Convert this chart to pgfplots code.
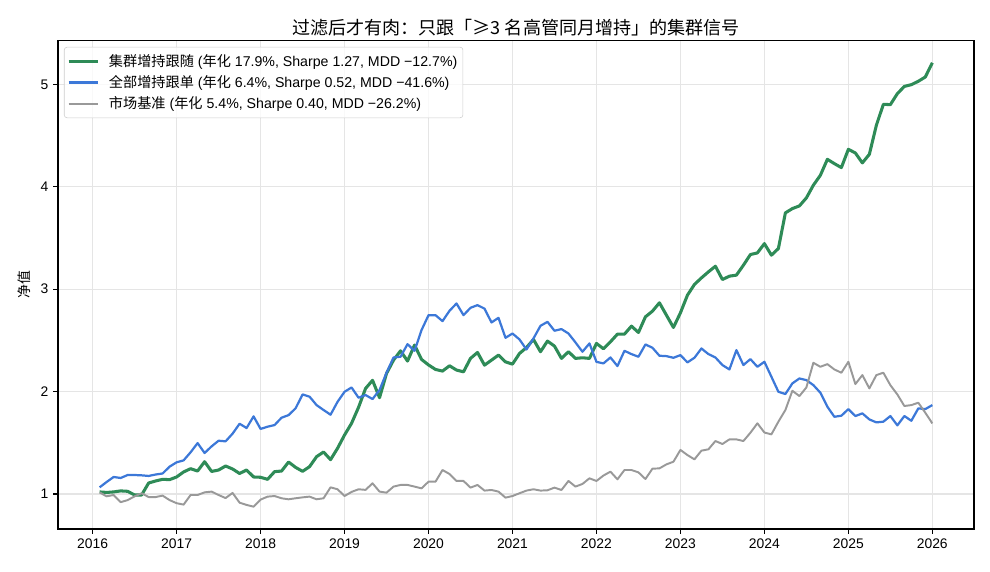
\documentclass[border=0pt]{standalone}
\usepackage{fontspec}
\setmainfont{Liberation Sans}
\newfontfamily\cjk{Noto Sans CJK SC}
\usepackage{pgfplots}
\pgfplotsset{compat=1.18}
\usepackage{pgfplotstable}
\definecolor{cgreen}{HTML}{2E8B57}
\definecolor{cblue}{HTML}{3C78D8}
\definecolor{cgray}{HTML}{999999}

\pgfplotstableread{
m g b s
0 1.020 1.065 1.015
1 1.015 1.117 0.977
2 1.020 1.166 0.990
3 1.030 1.156 0.920
4 1.026 1.185 0.940
5 0.990 1.185 0.977
6 0.990 1.182 1.007
7 1.107 1.176 0.970
8 1.127 1.190 0.970
9 1.143 1.200 0.984
10 1.140 1.267 0.940
11 1.166 1.309 0.910
12 1.215 1.328 0.896
13 1.247 1.407 0.990
14 1.224 1.497 0.990
15 1.315 1.400 1.016
16 1.220 1.465 1.023
17 1.234 1.520 0.990
18 1.273 1.514 0.960
19 1.244 1.589 1.010
20 1.200 1.686 0.915
21 1.234 1.644 0.893
22 1.166 1.758 0.876
23 1.163 1.635 0.945
24 1.143 1.657 0.974
25 1.218 1.673 0.980
26 1.224 1.745 0.958
27 1.312 1.770 0.948
28 1.260 1.836 0.958
29 1.221 1.972 0.967
30 1.267 1.950 0.974
31 1.364 1.868 0.948
32 1.410 1.820 0.958
33 1.335 1.774 1.065
34 1.446 1.900 1.046
35 1.576 1.998 0.980
36 1.690 2.040 1.020
37 1.846 1.940 1.046
38 2.030 1.966 1.040
39 2.110 1.927 1.104
40 1.940 2.015 1.023
41 2.177 2.184 1.013
42 2.307 2.333 1.072
43 2.398 2.340 1.088
44 2.298 2.463 1.088
45 2.454 2.398 1.072
46 2.314 2.600 1.055
47 2.260 2.746 1.120
48 2.216 2.746 1.120
49 2.200 2.688 1.234
50 2.252 2.789 1.195
51 2.210 2.860 1.127
52 2.193 2.746 1.127
53 2.324 2.818 1.062
54 2.382 2.844 1.088
55 2.258 2.810 1.033
56 2.307 2.675 1.039
57 2.356 2.720 1.023
58 2.290 2.525 0.964
59 2.268 2.567 0.980
60 2.372 2.509 1.007
61 2.430 2.411 1.033
62 2.509 2.519 1.046
63 2.389 2.642 1.033
64 2.493 2.681 1.036
65 2.444 2.594 1.062
66 2.324 2.610 1.039
67 2.389 2.567 1.127
68 2.324 2.480 1.072
69 2.330 2.389 1.098
70 2.324 2.470 1.153
71 2.470 2.290 1.127
72 2.418 2.275 1.180
73 2.486 2.333 1.218
74 2.561 2.249 1.143
75 2.561 2.398 1.234
76 2.639 2.366 1.234
77 2.577 2.340 1.211
78 2.730 2.460 1.146
79 2.785 2.428 1.247
80 2.867 2.350 1.250
81 2.746 2.346 1.289
82 2.626 2.330 1.315
83 2.769 2.356 1.430
84 2.941 2.285 1.380
85 3.046 2.330 1.338
86 3.110 2.421 1.423
87 3.169 2.366 1.436
88 3.224 2.333 1.517
89 3.094 2.259 1.488
90 3.127 2.216 1.533
91 3.137 2.405 1.533
92 3.234 2.259 1.517
93 3.338 2.317 1.598
94 3.354 2.242 1.690
95 3.445 2.291 1.600
96 3.332 2.145 1.582
97 3.397 1.998 1.706
98 3.745 1.976 1.820
99 3.787 2.080 2.008
100 3.813 2.128 1.956
101 3.891 2.112 2.040
102 4.015 2.063 2.281
103 4.112 1.989 2.242
104 4.268 1.852 2.268
105 4.226 1.754 2.216
106 4.187 1.764 2.184
107 4.366 1.829 2.291
108 4.330 1.761 2.073
109 4.233 1.787 2.161
110 4.317 1.728 2.031
111 4.600 1.699 2.161
112 4.805 1.706 2.184
113 4.802 1.761 2.063
114 4.909 1.670 1.972
115 4.980 1.761 1.859
116 4.997 1.715 1.868
117 5.030 1.836 1.891
118 5.072 1.829 1.793
119 5.211 1.868 1.689
}\data

\begin{document}
\begin{tikzpicture}[x=1pt,y=1pt]
\useasboundingbox (0,0) rectangle (712.8,411.84);
\begin{axis}[
  at={(41.76pt,30.96pt)}, anchor=south west,
  scale only axis, width=659.5pt, height=351.4pt,
  xmin=2015.5875, xmax=2026.4958,
  ymin=0.658, ymax=5.424,
  xtick={2016,2017,...,2026},
  ytick={1,2,3,4,5},
  /pgf/number format/1000 sep={},
  /pgf/number format/assume math mode=true,
  tick label style={font=\fontsize{10}{12}\selectfont},
  tick pos=left, tick align=outside,
  major tick length=3.5pt,
  every tick/.style={black, line width=0.8pt},
  axis line style={black, line width=0.8pt},
  grid=major,
  major grid style={color=black!10, line width=0.8pt},
  ylabel={\cjk 净值},
  ylabel style={font=\fontsize{10}{12}\selectfont},
  title={\cjk 过滤后才有肉：只跟「≥3 名高管同月增持」的集群信号},
  title style={font=\fontsize{13}{15}\selectfont, yshift=-6pt},
  legend style={at={(0,1)}, anchor=north west, xshift=4.3pt, yshift=-4.3pt,
    draw=black!20, rounded corners=2pt, fill=white, fill opacity=0.8, text opacity=1,
    font=\fontsize{10.2}{12}\selectfont, row sep=1.2pt, inner xsep=2pt, inner ysep=3pt},
  legend cell align=left,
  legend image code/.code={\draw[#1] (0pt,0pt) -- (21pt,0pt); \path (26pt,0pt);},
]
\addplot[cgreen, line width=2.2pt, line join=round] table[x expr=2016+(\thisrow{m}+1)/12, y=g] {\data};
\addlegendentry{{\cjk 集群增持跟随} ({\cjk 年化} 17.9\%, Sharpe 1.27, MDD −12.7\%)}
\addplot[cblue, line width=1.6pt, line join=round] table[x expr=2016+(\thisrow{m}+1)/12, y=b] {\data};
\addlegendentry{{\cjk 全部增持跟单} ({\cjk 年化} 6.4\%, Sharpe 0.52, MDD −41.6\%)}
\addplot[cgray, line width=1.4pt, line join=round] table[x expr=2016+(\thisrow{m}+1)/12, y=s] {\data};
\addlegendentry{{\cjk 市场基准} ({\cjk 年化} 5.4\%, Sharpe 0.40, MDD −26.2\%)}
\end{axis}
\end{tikzpicture}
\end{document}
